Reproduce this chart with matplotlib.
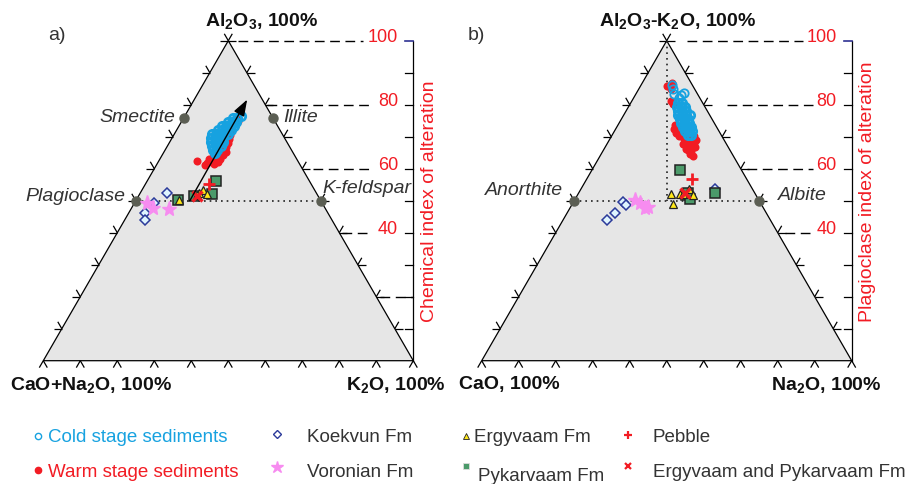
import matplotlib
matplotlib.use('Agg')
import matplotlib.pyplot as plt
import numpy as np

plt.rcParams['font.family'] = 'Liberation Sans'
plt.rcParams['mathtext.fontset'] = 'custom'
plt.rcParams['mathtext.rm'] = 'Liberation Sans'
plt.rcParams['mathtext.bf'] = 'Liberation Sans:bold'
plt.rcParams['mathtext.default'] = 'regular'

# ---- data -------------------------------------------------------------
# panel a: (CIA, K2O %)      panel b: (PIA, Na2O %)
cold_a = [(75.9, 13.4), (75.9, 14.5),
          (74.7, 12.7), (74.7, 13.7), (74.7, 14.8),
          (73.4, 11.7), (73.4, 12.7), (73.4, 13.8), (73.4, 14.9),
          (72.2, 11.2), (72.2, 12.3), (72.2, 13.4), (72.2, 14.5),
          (70.9, 10.2), (70.9, 11.3), (70.9, 12.4), (70.9, 13.5), (70.9, 14.5),
          (69.7, 10.6), (69.7, 11.6), (69.7, 12.7), (69.7, 13.8),
          (68.4, 11.2), (68.4, 12.3), (68.4, 13.4), (68.4, 14.4),
          (67.2, 12.1), (67.2, 13.2), (67.2, 14.3),
          (65.9, 13.0), (65.9, 14.1), (65.0, 14.0), (76.6, 15.0)]
warm_a = [(62.5, 10.4),
          (61.9, 13.4), (62.5, 14.2), (63.1, 14.9), (63.75, 15.7), (64.4, 16.5),
          (63.1, 13.3), (63.75, 14.1), (64.4, 14.8), (65.6, 15.6), (66.9, 16.0),
          (68.1, 15.9), (69.4, 15.6), (70.6, 15.2), (71.9, 14.9),
          (65.3, 16.8), (63.1, 16.3), (61.6, 15.2), (62.2, 16.2), (61.25, 13.2),
          (75.9, 14.2), (75.0, 15.2)]
koekvun_a = [(52.5, 7.2), (49.4, 5.1), (46.25, 4.3), (44.1, 5.4)]
voronian_a = [(49.4, 3.3), (47.7, 5.9), (47.3, 10.4)]
pykarvaam_a = [(50.2, 11.3), (56.25, 18.6), (52.2, 19.6), (51.6, 14.8)]
ergyvaam_a = [(50.1, 11.5), (52.5, 15.9), (53.2, 16.5), (52.2, 18.2), (51.7, 15.7)]
pebble_a = [(55.3, 17.0)]
erg_pyk_a = [(51.5, 15.8)]
minerals_a = {'Smectite': (76, 0), 'Illite': (76, 24),
              'Plagioclase': (50, 0), 'K-feldspar': (50, 50)}
trend_a = [(50, 14.6), (81.6, 14.3)]

cold_b = [(80.6, 12.7), (80.6, 13.7),
          (79.4, 13.0), (79.4, 14.1), (79.4, 15.2),
          (78.1, 13.9), (78.1, 15.0), (78.1, 16.1),
          (76.9, 14.5), (76.9, 15.6), (76.9, 16.7), (76.9, 17.8),
          (75.6, 15.7), (75.6, 16.8), (75.6, 17.9),
          (74.4, 16.6), (74.4, 17.7), (74.4, 18.8),
          (73.1, 17.8), (73.1, 18.9), (73.1, 19.9),
          (71.9, 18.9), (71.9, 20.0), (71.9, 20.8),
          (70.6, 20.4), (70.6, 21.2)]
cold_b_top = [(85.0, 9.1), (83.4, 10.4), (83.1, 12.2), (82.2, 12.2), (83.75, 12.7), (86.25, 8.2)]
warm_b = [(85.9, 7.0), (86.9, 7.9), (85.0, 8.6), (81.3, 10.6), (80.3, 11.6),
          (73.75, 15.3), (72.5, 16.7), (71.25, 16.8), (71.9, 17.6), (70.3, 18.1), (72.5, 15.6),
          (69.4, 19.9), (68.4, 21.2), (69.4, 21.8), (70.3, 22.1), (67.2, 21.5), (67.5, 22.5),
          (68.1, 23.2), (65.9, 22.7), (65.6, 23.9), (64.1, 25.0),
          (67.7, 20.5), (66.2, 22.1), (64.6, 24.0), (66.8, 24.3), (69.0, 23.4),
          (70.5, 18.9), (69.9, 21.1)]
koekvun_b = [(53.75, 36.1), (49.6, 13.4), (48.6, 14.6), (46.1, 12.9), (44.1, 11.7)]
voronian_b = [(50.3, 16.3), (49.2, 18.1), (48.0, 20.9), (47.8, 20.1)]
pykarvaam_b = [(59.5, 23.9), (52.5, 36.7), (51.7, 29.5), (50.6, 30.9), (52.4, 29.6)]
ergyvaam_b = [(52.2, 25.0), (49.1, 27.2), (52.2, 27.4), (53.75, 29.1), (51.7, 31.3), (52.0, 28.4)]
pebble_b = [(56.9, 28.3)]
erg_pyk_b = [(52.4, 28.7)]
minerals_b = {'Anorthite': (50, 0), 'Albite': (50, 50)}

index_ticks = [100, 80, 60, 40]

# ---- style / layout ---------------------------------------------------
W, H = 919, 485
SX, SY = 3.7, 3.2          # px per ternary unit
BASE_Y = 361.7
TL = 8                     # tick arm length, px
RED = '#f21c24'
BLUE = '#17a2e0'
GRAY = '#333333'


def tern(pts):
    a = np.array([p[0] for p in pts], float)
    b = np.array([p[1] for p in pts], float)
    return b + a / 2, a


fig = plt.figure(figsize=(W / 100, H / 100), dpi=100)


def make_panel(bl_x, left_px, right_px):
    ax = fig.add_axes([left_px / W, 0, (right_px - left_px) / W, 1])
    ax.set_xlim((left_px - bl_x) / SX, (right_px - bl_x) / SX)
    ax.set_ylim((BASE_Y - H) / SY, BASE_Y / SY)
    ax.axis('off')
    ax.fill([0, 100, 50], [0, 0, 100], facecolor='#e6e6e6', edgecolor='black',
            lw=0.9, zorder=1)

    def arm(x, y, ang):
        r = np.deg2rad(ang)
        ax.plot([x, x + TL * np.cos(r) / SX], [y, y + TL * np.sin(r) / SY],
                color='black', lw=0.9, zorder=2, solid_capstyle='butt')

    for t in range(0, 101, 10):
        arm(t, 0, 240)
        arm(t, 0, 300)
        if t > 0:
            arm(t / 2, t, 120)
            arm(t / 2, t, 180)
            arm(100 - t / 2, t, 0)
            arm(100 - t / 2, t, 60)

    # index axis on the right
    ax.plot([100, 100], [0, 100], color='black', lw=0.9, zorder=2)
    for v in range(10, 100, 10):
        ax.plot([100 - 8 / SX, 100], [v, v], color='black', lw=0.9, zorder=2)
    ax.plot([100 - 8 / SX, 100], [100, 100], color='#2e3192', lw=1.2, zorder=2)
    for v in index_ticks:
        ax.text(95.9, v, str(v), ha='right', va='baseline', color=RED, fontsize=13)
    return ax


def dashes(ax, levels, starts, ends):
    for v, s, e in zip(levels, starts, ends):
        ax.plot([s, e], [v, v], color='black', lw=1.0, ls=(0, (7, 4)), zorder=2)


def draw_points(ax, cold, warm, koe, vor, pyk, erg, peb, ep):
    x, y = tern(warm)
    ax.plot(x, y, 'o', ms=5.8, mfc=RED, mec='none', zorder=4)
    x, y = tern(cold)
    ax.plot(x, y, 'o', ms=6, mfc='none', mec=BLUE, mew=2.0, zorder=5)
    x, y = tern(koe)
    ax.plot(x, y, 'D', ms=5.4, mfc='#dff5ff', mec='#2b3a9a', mew=1.1, zorder=6)
    x, y = tern(vor)
    ax.plot(x, y, '*', ms=11, mfc='#f78cf0', mec='#f78cf0', zorder=6)
    x, y = tern(pyk)
    ax.plot(x, y, 's', ms=6.5, mfc='#4b9a6a', mec='#222222', mew=1.1, zorder=7)
    x, y = tern(erg)
    ax.plot(x, y, '^', ms=6, mfc='#ffe81a', mec='#222222', mew=0.9, zorder=8)
    x, y = tern(peb)
    ax.plot(x, y, '+', ms=8, mec=RED, mew=2, zorder=9)
    x, y = tern(ep)
    ax.plot(x, y, 'x', ms=7.5, mec=RED, mew=2.4, zorder=9)


def minerals(ax, mins):
    x, y = tern(list(mins.values()))
    ax.plot(x, y, 'o', ms=6.5, color='#5b5e53', zorder=3)


dot_style = dict(color='#222222', lw=1.2, ls=(0, (1, 2.4)), zorder=2)

# ---- panel a ----------------------------------------------------------
axa = make_panel(43.3, 0, 460)
dashes(axa, [100, 80, 60, 40, 20], [52.6, 60.5, 72.9, 80.7, 91.0],
       [86.4, 88.8, 88.8, 87.5, 100])
x, y = tern([minerals_a['Plagioclase'], minerals_a['K-feldspar']])
axa.plot(x, y, **dot_style)
minerals(axa, minerals_a)
draw_points(axa, cold_a, warm_a, koekvun_a, voronian_a, pykarvaam_a,
            ergyvaam_a, pebble_a, erg_pyk_a)
x, y = tern(trend_a)
axa.annotate('', xy=(x[1], y[1]), xytext=(x[0], y[0]),
             arrowprops=dict(arrowstyle='-|>,head_length=1.0,head_width=0.35',
                             color='black', lw=1.0, shrinkA=0, shrinkB=0),
             zorder=10)

# ---- panel b ----------------------------------------------------------
axb = make_panel(481.7, 460, 919)
dashes(axb, [100, 80, 60, 40], [55.5, 66.3, 71.7, 82.0], [86.8, 89.5, 89.5, 88.7])
x, y = tern([minerals_b['Anorthite'], minerals_b['Albite']])
axb.plot(x, y, **dot_style)
x, y = tern([(100, 0), (50, 25)])
axb.plot(x, y, **dot_style)
minerals(axb, minerals_b)
draw_points(axb, cold_b, warm_b, koekvun_b, voronian_b, pykarvaam_b,
            ergyvaam_b, pebble_b, erg_pyk_b)
x, y = tern(cold_b_top)
axb.plot(x, y, 'o', ms=6, mfc='none', mec=BLUE, mew=1.3, zorder=5)

# ---- labels & legend (pixel overlay) -----------------------------------
ov = fig.add_axes([0, 0, 1, 1])
ov.set_xlim(0, W)
ov.set_ylim(H, 0)
ov.axis('off')

bold = dict(fontsize=14, fontweight='bold', color='#111111', va='center')
ov.text(262, 21, 'Al$_2$O$_3$, 100%', ha='center', **bold)
ov.text(678, 21, 'Al$_2$O$_3$-K$_2$O, 100%', ha='center', **bold)
ov.text(10, 385, 'CaO+Na$_2$O, 100%', ha='left', **bold)
ov.text(396, 385, 'K$_2$O, 100%', ha='center', **bold)
ov.text(459, 385, 'CaO, 100%', ha='left', **bold)
ov.text(826, 385, 'Na$_2$O, 100%', ha='center', **bold)

ov.text(57, 35, 'a)', ha='center', va='center', fontsize=14, color=GRAY)
ov.text(476, 35, 'b)', ha='center', va='center', fontsize=14, color=GRAY)

ital = dict(fontsize=14, style='italic', color=GRAY, va='center')
ov.text(175, 117, 'Smectite', ha='right', **ital)
ov.text(283, 117, 'Illite', ha='left', **ital)
ov.text(125, 197, 'Plagioclase', ha='right', **ital)
ov.text(322, 189, 'K-feldspar', ha='left', **ital)
ov.text(563, 191, 'Anorthite', ha='right', **ital)
ov.text(778, 196, 'Albite', ha='left', **ital)

ov.text(429, 201, 'Chemical index of alteration', rotation=90, ha='center',
        va='center', fontsize=14, color=RED)
ov.text(867, 192, 'Plagioclase index of alteration', rotation=90, ha='center',
        va='center', fontsize=14, color=RED)

# legend
leg_fs = 13.5
ov.plot(38, 437, 'o', ms=4.5, mfc='none', mec=BLUE, mew=1.0)
ov.text(48, 438, 'Cold stage sediments', color=BLUE, fontsize=leg_fs, va='center')
ov.plot(38, 471, 'o', ms=4.5, color=RED)
ov.text(48, 473, 'Warm stage sediments', color=RED, fontsize=leg_fs, va='center')
ov.plot(277, 435, 'D', ms=4, mfc='white', mec='#2b3a9a', mew=1.0)
ov.text(307, 438, 'Koekvun Fm', color=GRAY, fontsize=leg_fs, va='center')
ov.plot(277, 468, '*', ms=9, color='#f78cf0')
ov.text(307, 473, 'Voronian Fm', color=GRAY, fontsize=leg_fs, va='center')
ov.plot(466, 437, '^', ms=4.5, mfc='#ffe81a', mec='#222222', mew=0.6)
ov.text(474, 438, 'Ergyvaam Fm', color=GRAY, fontsize=leg_fs, va='center')
ov.plot(466, 467, 's', ms=4.5, mfc='#4b9a6a', mec='#dddddd', mew=0.6)
ov.text(478, 477, 'Pykarvaam Fm', color=GRAY, fontsize=leg_fs, va='center')
ov.plot(628, 436, '+', ms=5.5, mec=RED, mew=1.6)
ov.text(653, 438, 'Pebble', color=GRAY, fontsize=leg_fs, va='center')
ov.plot(628, 467, 'x', ms=5, mec=RED, mew=1.6)
ov.text(653, 473, 'Ergyvaam and Pykarvaam Fm', color=GRAY, fontsize=leg_fs, va='center')

fig.savefig('out.png', dpi=100)
